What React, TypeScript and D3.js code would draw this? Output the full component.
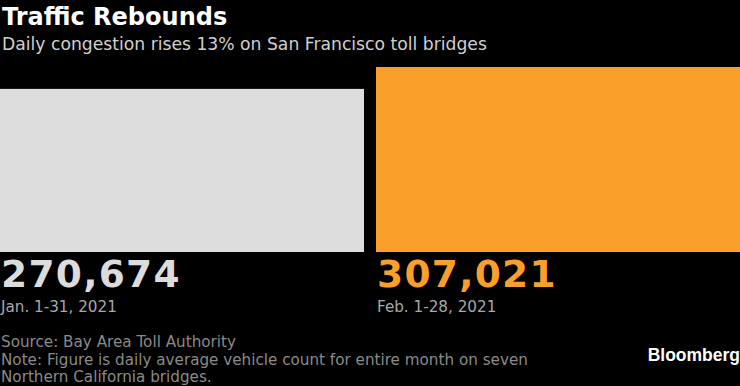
import React from "react";
import * as d3 from "d3";

const categories = ["Jan. 1-31, 2021", "Feb. 1-28, 2021"];
const values = [270674, 307021];
const colors = ["#dcdcdc", "#fa9f2a"];
const title = "Traffic Rebounds";
const subtitle = "Daily congestion rises 13% on San Francisco toll bridges";
const footnotes = [
  "Source: Bay Area Toll Authority",
  "Note: Figure is daily average vehicle count for entire month on seven",
  "Northern California bridges.",
];

const W = 740;
const H = 386;

export default function App() {
  const x = d3.scaleBand<string>().domain(categories).range([0, W]).paddingInner(0.0319).paddingOuter(0);
  const y = d3.scaleLinear().domain([0, d3.max(values)!]).range([252, 67]);
  const fmt = d3.format(",");
  const sans = "'DejaVu Sans', Verdana, sans-serif";
  return (
    <svg width={W} height={H} style={{ position: "absolute", left: 0, top: 0, background: "#000" }}>
      <rect x={0} y={0} width={W} height={H} fill="#000" />
      <text x={2} y={25} fill="#fff" fontFamily={sans} fontWeight="bold" fontSize={24}>{title}</text>
      <text x={2} y={50} fill="#d0d0d0" fontFamily={sans} fontSize={17.2}>{subtitle}</text>
      {categories.map((c, i) => (
        <g key={c}>
          <rect x={x(c)} y={y(values[i])} width={x.bandwidth()} height={y(0) - y(values[i])} fill={colors[i]} />
          <text x={(x(c) as number) + 1} y={287} fill={colors[i]} fontFamily={sans} fontWeight="bold" fontSize={37.5} letterSpacing={1.3}>{fmt(values[i])}</text>
          <text x={(x(c) as number) + 1} y={312} fill="#a8a8a8" fontFamily={sans} fontSize={15.2}>{c}</text>
        </g>
      ))}
      {footnotes.map((t, i) => (
        <text key={i} x={1} y={347 + i * 17.5} fill="#8a8a8a" fontFamily={sans} fontSize={15.2}>{t}</text>
      ))}
      <text x={740} y={361} textAnchor="end" fill="#fff" fontFamily="'Liberation Sans', Arial, sans-serif" fontWeight="bold" fontSize={17.5}>Bloomberg</text>
    </svg>
  );
}
